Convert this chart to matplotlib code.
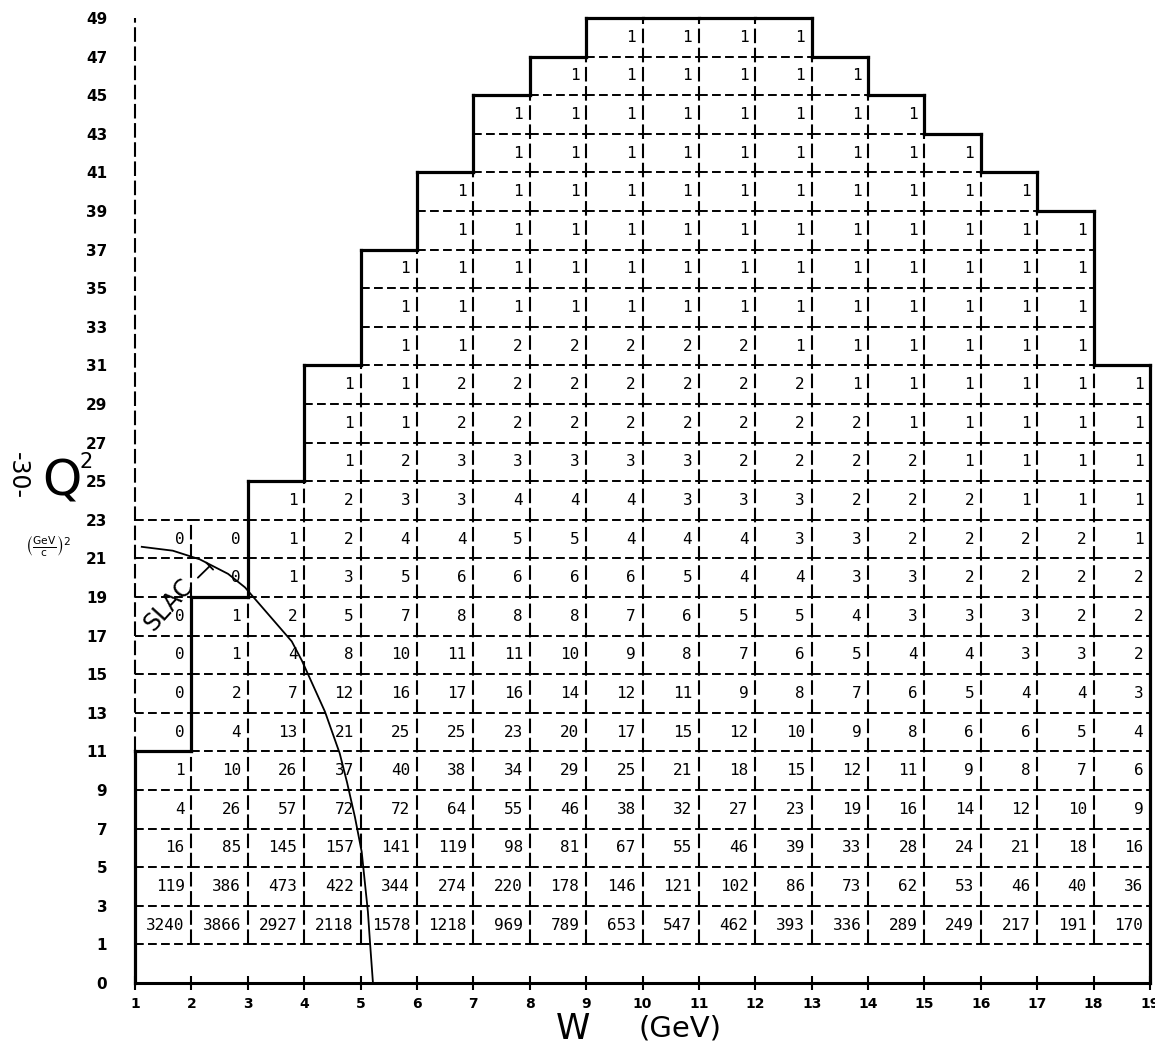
import numpy as np
import matplotlib.pyplot as plt

# counts per W bin (W..W+1 GeV), listed bottom-up from the Q^2 = 1-3 bin
w01 = [3240, 119, 16, 4, 1, 0, 0, 0, 0, None, 0]
w02 = [3866, 386, 85, 26, 10, 4, 2, 1, 1, 0, 0]
w03 = [2927, 473, 145, 57, 26, 13, 7, 4, 2, 1, 1, 1]
w04 = [2118, 422, 157, 72, 37, 21, 12, 8, 5, 3, 2, 2, 1, 1, 1]
w05 = [1578, 344, 141, 72, 40, 25, 16, 10, 7, 5, 4, 3, 2, 1, 1, 1, 1, 1]
w06 = [1218, 274, 119, 64, 38, 25, 17, 11, 8, 6, 4, 3, 3, 2, 2, 1, 1, 1, 1, 1]
w07 = [969, 220, 98, 55, 34, 23, 16, 11, 8, 6, 5, 4, 3, 2, 2, 2, 1, 1, 1, 1, 1, 1]
w08 = [789, 178, 81, 46, 29, 20, 14, 10, 8, 6, 5, 4, 3, 2, 2, 2, 1, 1, 1, 1, 1, 1, 1]
w09 = [653, 146, 67, 38, 25, 17, 12, 9, 7, 6, 4, 4, 3, 2, 2, 2, 1, 1, 1, 1, 1, 1, 1, 1]
w10 = [547, 121, 55, 32, 21, 15, 11, 8, 6, 5, 4, 3, 3, 2, 2, 2, 1, 1, 1, 1, 1, 1, 1, 1]
w11 = [462, 102, 46, 27, 18, 12, 9, 7, 5, 4, 4, 3, 2, 2, 2, 2, 1, 1, 1, 1, 1, 1, 1, 1]
w12 = [393, 86, 39, 23, 15, 10, 8, 6, 5, 4, 3, 3, 2, 2, 2, 1, 1, 1, 1, 1, 1, 1, 1, 1]
w13 = [336, 73, 33, 19, 12, 9, 7, 5, 4, 3, 3, 2, 2, 2, 1, 1, 1, 1, 1, 1, 1, 1, 1]
w14 = [289, 62, 28, 16, 11, 8, 6, 4, 3, 3, 2, 2, 2, 1, 1, 1, 1, 1, 1, 1, 1, 1]
w15 = [249, 53, 24, 14, 9, 6, 5, 4, 3, 2, 2, 2, 1, 1, 1, 1, 1, 1, 1, 1, 1]
w16 = [217, 46, 21, 12, 8, 6, 4, 3, 3, 2, 2, 1, 1, 1, 1, 1, 1, 1, 1, 1]
w17 = [191, 40, 18, 10, 7, 5, 4, 3, 2, 2, 2, 1, 1, 1, 1, 1, 1, 1, 1]
w18 = [170, 36, 16, 9, 6, 4, 3, 2, 2, 2, 1, 1, 1, 1, 1]
counts = [w01, w02, w03, w04, w05, w06, w07, w08, w09,
          w10, w11, w12, w13, w14, w15, w16, w17, w18]

w_ticks = list(range(1, 20))
q2_ticks = [0] + list(range(1, 50, 2))
# top of the solid (kinematic) boundary for each W bin
outline_top = [11, 19, 25, 31, 37, 41, 45, 47, 49, 49, 49, 49, 47, 45, 43, 41, 39, 31]

# hand drawn SLAC limit
slac_w = [1.12, 1.67, 2.15, 2.65, 2.95, 3.78, 3.96, 4.37, 4.63, 4.76, 4.90, 5.02, 5.13, 5.17, 5.22]
slac_q2 = [21.6, 21.4, 20.95, 20.2, 19.5, 16.7, 15.7, 13.05, 10.9, 9.4, 7.6, 5.8, 2.7, 1.0, 0.0]


# Q^2 axis: 0..1 takes one row, above that each row is 2 units
def qy(q):
    q = np.asarray(q, dtype=float)
    return np.where(q <= 1, q, 1 + (q - 1) / 2)


fig = plt.figure(figsize=(11.55, 10.47), dpi=100)
ax = fig.add_axes([135/1155, 64/1047, 1015/1155, 965/1047])
ax.set_xlim(1, 19)
ax.set_ylim(0, 25)
for s in ['top', 'right', 'left']:
    ax.spines[s].set_visible(False)
ax.spines['bottom'].set_linewidth(2.2)

ax.set_xticks(w_ticks)
ax.set_xticklabels([str(w) for w in w_ticks], fontsize=10, fontweight='bold')
ax.tick_params(axis='x', direction='inout', length=10, width=1.5, pad=5)
ax.set_yticks(qy(q2_ticks))
ax.set_yticklabels([str(q) for q in q2_ticks], fontsize=11, fontweight='bold')
ax.tick_params(axis='y', length=0, pad=20)

hdash = dict(color='k', lw=1.4, ls=(0, (4.5, 2.2)), clip_on=False)
vdash = dict(color='k', lw=1.5, ls=(0, (7, 2.2)), clip_on=False)
thick = dict(color='k', lw=2.3, solid_capstyle='projecting', clip_on=False)

grid_top = [1 + 2 * len(col) for col in counts]

# horizontal cell borders
for c, col in enumerate(counts):
    w0 = w_ticks[c]
    for q in range(1, grid_top[c] + 1, 2):
        if q != outline_top[c]:
            ax.plot([w0, w0 + 1], [qy(q)] * 2, **hdash)
    ax.plot([w0, w0 + 1], [qy(outline_top[c])] * 2, **thick)

# vertical cell borders
for k in range(1, len(counts)):
    w = w_ticks[k]
    lo = min(outline_top[k - 1], outline_top[k])
    hi = max(outline_top[k - 1], outline_top[k])
    gt = max(grid_top[k - 1], grid_top[k])
    ax.plot([w, w], [qy(1), qy(lo)], **vdash)
    if hi > lo:
        ax.plot([w, w], [qy(lo), qy(hi)], **thick)
    if gt > hi:
        ax.plot([w, w], [qy(hi), qy(gt)], **vdash)

# outer edges
ax.plot([1, 1], [0, qy(outline_top[0])], **thick)
ax.plot([1, 1], [qy(outline_top[0]), qy(49)], **vdash)
ax.plot([19, 19], [0, qy(outline_top[-1])], **thick)

# numbers
for c, col in enumerate(counts):
    for r, v in enumerate(col):
        if v is None:
            continue
        ax.text(w_ticks[c] + 1 - 0.12, r + 1.5, str(v), ha='right', va='center',
                family='DejaVu Sans Mono', fontsize=11.5)

# SLAC curve
ax.plot(slac_w, qy(slac_q2), color='k', lw=1.3)
ax.text(1.6, qy(18.6), 'SLAC', rotation=48, fontsize=17, ha='center', va='center')
ax.annotate('', xy=(2.36, qy(20.7)), xytext=(2.08, qy(19.9)),
            arrowprops=dict(arrowstyle='-[, widthB=0.35, lengthB=0', lw=1.3, color='k'))

# axis titles
fig.text(62/1155, 1 - 482/1047, 'Q', fontsize=36, ha='center', va='center')
fig.text(86/1155, 1 - 462/1047, '2', fontsize=15, ha='center', va='center')
fig.text(48/1155, 1 - 545/1047, r'$\left(\frac{\rm GeV}{c}\right)^{2}$', fontsize=11,
         ha='center', va='center')
fig.text(18/1155, 1 - 475/1047, '-30-', rotation=-90, fontsize=17, ha='center', va='center')
fig.text(573/1155, 1 - 1029/1047, 'W', fontsize=25, ha='center', va='center')
fig.text(680/1155, 1 - 1028/1047, '(GeV)', fontsize=21, ha='center', va='center')

fig.savefig('out.png', dpi=100, facecolor='white')
